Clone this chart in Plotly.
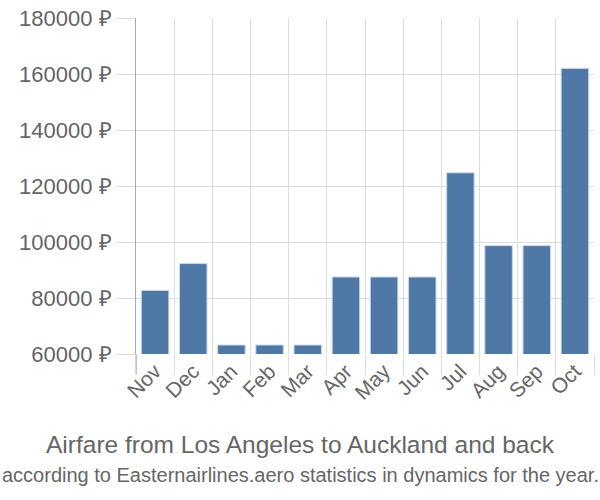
import plotly.graph_objects as go

months = ["Nov", "Dec", "Jan", "Feb", "Mar", "Apr", "May", "Jun", "Jul", "Aug", "Sep", "Oct"]
prices = [82700, 92300, 63200, 63200, 63200, 87500, 87500, 87500, 124700, 98700, 98700, 162000]
y_ticks = [60000, 80000, 100000, 120000, 140000, 160000, 180000]
y_tick_labels = [f"{v} ₽" for v in y_ticks]

title_text = "Airfare from Los Angeles to Auckland and back"
subtitle_text = "according to Easternairlines.aero statistics in dynamics for the year."

fig = go.Figure(go.Bar(
    x=months, y=prices,
    marker=dict(color="#4e79a7", line=dict(color="#c8d6e6", width=1)),
))

font_family = "Liberation Sans, Arial, sans-serif"
plot_h = 500 - 14 - 146
fig.update_layout(
    width=600, height=500,
    margin=dict(l=136, r=6, t=14, b=146),
    plot_bgcolor="white", paper_bgcolor="white",
    bargap=0.28,
    showlegend=False,
    font=dict(family=font_family, color="#666666"),
)
fig.add_annotation(text=title_text, xref="paper", yref="paper", x=(300-136)/458, y=-(446-354)/plot_h,
                   xanchor="center", yanchor="middle", showarrow=False,
                   font=dict(size=24.5, color="#666666", family=font_family))
fig.add_annotation(text=subtitle_text, xref="paper", yref="paper", x=(300-136)/458, y=-(476-354)/plot_h,
                   xanchor="center", yanchor="middle", showarrow=False,
                   font=dict(size=20, color="#666666", family=font_family))

fig.update_xaxes(
    tickson="boundaries", showgrid=True, gridcolor="#dddddd", gridwidth=1,
    ticks="outside", ticklen=20, tickcolor="#dddddd", tickwidth=1,
    tickangle=-45, tickfont=dict(size=21, color="#666666"),
    showline=False, zeroline=False,
)
fig.update_yaxes(
    range=[60000, 180000], tickvals=y_ticks, ticktext=y_tick_labels,
    showgrid=True, gridcolor="#dddddd", gridwidth=1,
    ticks="outside", ticklen=19, tickcolor="#dddddd", tickwidth=1,
    tickfont=dict(size=22, color="#666666"),
    showline=True, linecolor="#aaaaaa", linewidth=1, zeroline=False,
)
fig.add_shape(type="line", xref="paper", yref="paper", x0=0, x1=0, y0=0, y1=-20/plot_h,
              line=dict(color="#aaaaaa", width=1))

fig.write_html("out.html")
